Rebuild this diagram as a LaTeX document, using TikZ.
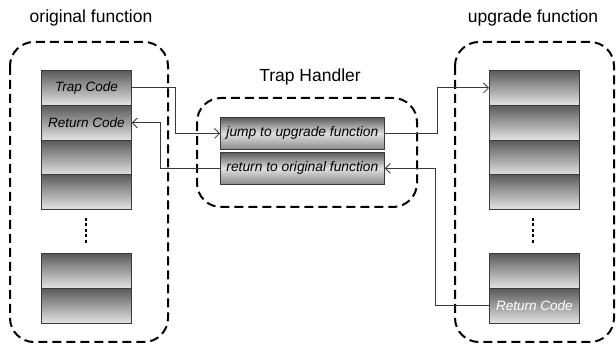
\documentclass[tikz,border=0pt]{standalone}
\usepackage{fontspec}
\setmainfont{Liberation Sans}
\usetikzlibrary{arrows.meta}
\definecolor{edgegray}{HTML}{3A3A3A}
\definecolor{topgray}{HTML}{5A5A5A}
\definecolor{botgray}{HTML}{E4E4E4}
\definecolor{hmid}{HTML}{E0E0E0}
\definecolor{hbot}{HTML}{8A8A8A}
\tikzset{
  blk/.style={draw=edgegray, line width=0.8pt, top color=topgray, bottom color=botgray,
    minimum width=90pt, minimum height=35pt, inner sep=0pt, anchor=north west,
    font=\fontsize{13.5}{15}\selectfont\itshape},
  hblk/.style={draw=edgegray, line width=0.8pt, top color=topgray, bottom color=hbot, middle color=hmid,
    minimum width=164pt, minimum height=32pt, inner sep=0pt, anchor=north west,
    font=\fontsize{13.8}{15}\selectfont\itshape},
  group/.style={draw=black, line width=2pt, dash pattern=on 9pt off 5pt, rounded corners=24pt},
  title/.style={font=\fontsize{17.5}{20}\selectfont},
  conn/.style={draw=edgegray, line width=0.8pt, -{Straight Barb[length=5pt,width=10pt]}},
  dotsline/.style={line width=2.4pt, dash pattern=on 3pt off 2.5pt}
}
\begin{document}
\begin{tikzpicture}[x=1pt,y=-1pt]
\useasboundingbox[fill=white] (0,0) rectangle (616,347);
% groups
\draw[group] (10,42) rectangle (168,342);
\draw[group] (197,98) rectangle (417,207);
\draw[group] (455,42) rectangle (614,342);
% titles
\node[title] (t1) at (91,18) {original function};
\node[title] (t2) at (310,77) {Trap Handler};
\node[title] (t3) at (533,18) {upgrade function};
% left stack
\node[blk] (trap) at (41,70) {Trap Code};
\node[blk] (lret) at (41,105) {Return Code};
\node[blk] (l3) at (41,140) {};
\node[blk] (l4) at (41,174) {};
\node[blk] (l5) at (41,253) {};
\node[blk] (l6) at (41,288) {};
\draw[dotsline] (86,218) -- (86,244);
% right stack
\node[blk] (u1) at (489,70) {};
\node[blk] (u2) at (489,105) {};
\node[blk] (u3) at (489,140) {};
\node[blk] (u4) at (489,174) {};
\node[blk] (u5) at (489,253) {};
\node[blk, text=white] (uret) at (489,288) {Return Code};
\draw[dotsline] (533,218) -- (533,244);
% handler
\node[hblk] (jump) at (220,117) {jump to upgrade function};
\node[hblk] (back) at (220,152) {return to original function};
% connectors
\draw[conn] (trap.east) -- ++(44,0) |- (jump.west);
\draw[conn] (back.west) -- ++(-60,0) |- (lret.east);
\draw[conn] (jump.east) -- ++(53,0) |- (u1.west);
\draw[conn] (uret.west) -- ++(-54,0) |- (back.east);
\end{tikzpicture}
\end{document}
